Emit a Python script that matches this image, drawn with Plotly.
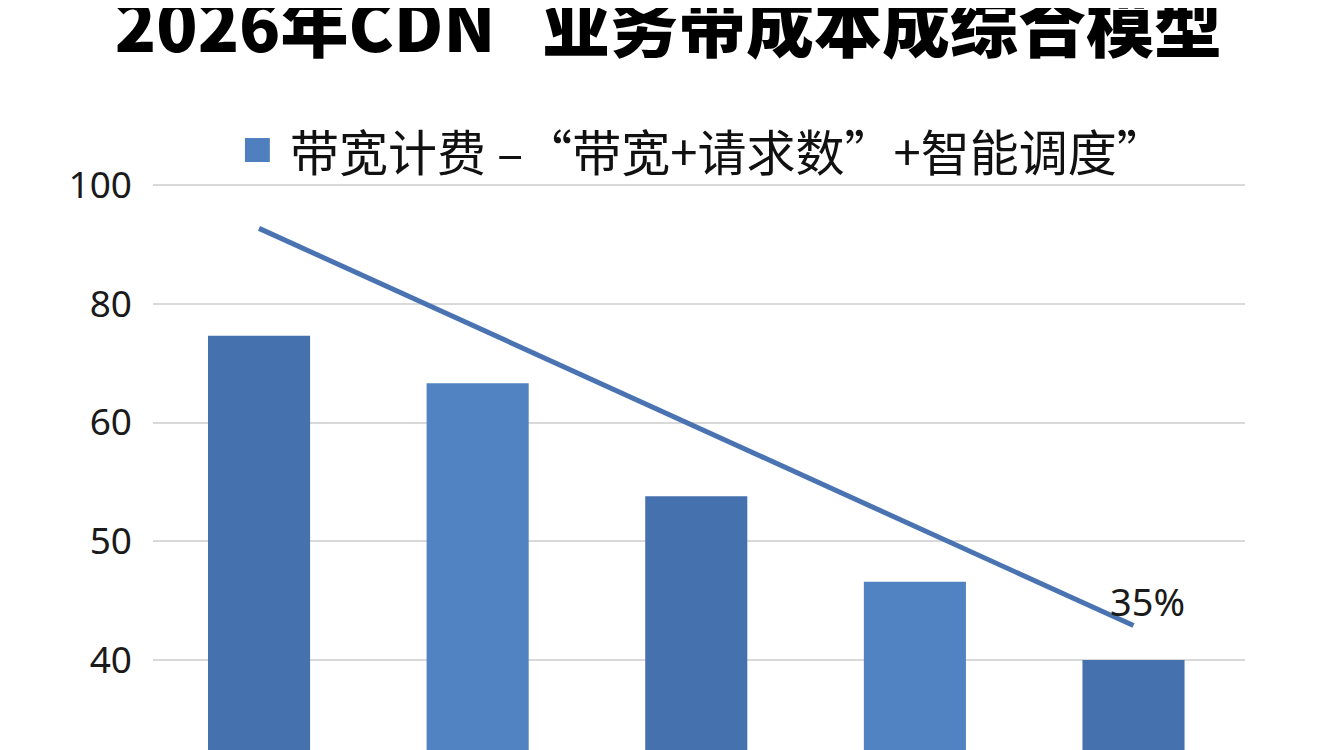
import numpy as np
import plotly.graph_objects as go

# values (in the units of the y labels)
stages = [0, 1, 2, 3, 4]
cost = [74.6, 66.6, 53.8, 46.6, 40.0]
trend_x = [0, 4]
trend = [92.7, 42.9]
tick_labels = [40, 50, 60, 80, 100]

title = "2026年CDN\u00a0\u00a0\u00a0业务带成本成综合模型"
legend_text = "带宽计费 –“带宽+请求数”+智能调度”"
end_label = "35%"

# the y labels are evenly spaced although their values are not,
# so map values onto an evenly spaced position scale
tick_pos = [1, 2, 3, 4, 5]


def to_pos(v):
    return np.interp(v, tick_labels, tick_pos)


dark = "#4571ae"
light = "#5183c2"

fig = go.Figure()
fig.add_trace(go.Bar(
    x=stages, y=to_pos(cost), width=0.467,
    marker=dict(color=[dark, light, dark, light, dark], line_width=0),
    name=legend_text, showlegend=False,
))
fig.add_trace(go.Scatter(
    x=trend_x, y=to_pos(trend), mode="lines",
    line=dict(color="#4a74b1", width=5), showlegend=False,
))

fig.add_annotation(x=trend_x[-1], y=to_pos(trend[-1]), text=end_label,
                   showarrow=False, xshift=14, yshift=25,
                   font=dict(size=38, color="#1a1a1a", family="Noto Sans"))

# legend drawn by hand so the swatch can be large
fig.add_shape(type="rect", xref="paper", yref="paper",
              x0=0.0842, x1=0.107, y0=0.9058, y1=0.9422,
              fillcolor="#4f7fbf", line_width=0)
fig.add_annotation(xref="paper", yref="paper", x=0.1236, y=0.9250,
                   xanchor="left", yanchor="middle", showarrow=False,
                   text=legend_text,
                   font=dict(size=49, color="#111111", family="Noto Sans CJK SC"))

fig.update_layout(
    width=1344, height=750,
    margin=dict(l=145, r=107, t=92, b=0),
    paper_bgcolor="white", plot_bgcolor="white",
    title=dict(text=title, x=0.4914, xanchor="center", y=1 - 20 / 750, yanchor="middle",
               font=dict(size=68, color="#000000", family="Noto Sans CJK SC", weight=900)),
)
fig.update_xaxes(range=[-0.485, 4.51], showticklabels=False, showgrid=False,
                 zeroline=False, showline=False)
fig.update_yaxes(range=[0.175, 5.716], tickvals=tick_pos, ticktext=[str(t) for t in tick_labels],
                 showgrid=True, gridcolor="#d9d9d9", gridwidth=1.5, zeroline=False,
                 showline=False, ticklabelstandoff=20,
                 tickfont=dict(size=37, color="#1a1a1a", family="Noto Sans"))

fig.write_html("out.html")
